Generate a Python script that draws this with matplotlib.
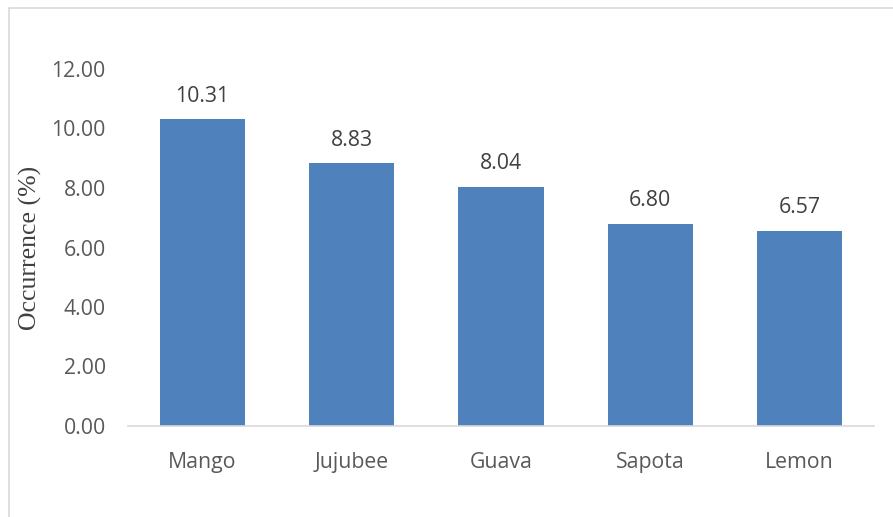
import matplotlib
matplotlib.use("Agg")
import matplotlib.pyplot as plt
from matplotlib.patches import Rectangle

categories = ["Mango", "Jujubee", "Guava", "Sapota", "Lemon"]
values = [10.31, 8.83, 8.04, 6.80, 6.57]
yticks = [0, 2, 4, 6, 8, 10, 12]

W, H = 893, 517
fig = plt.figure(figsize=(W / 100, H / 100), dpi=100)
fig.patch.set_facecolor("white")

ax = fig.add_axes([128 / W, 1 - 426 / H, (874 - 128) / W, (426 - 69) / H])
x = list(range(len(categories)))
ax.bar(x, values, width=0.57, color="#4F81BD", zorder=2)
ax.set_xlim(-0.5, len(categories) - 0.5)
ax.set_ylim(0, 12)
ax.set_yticks(yticks)
ax.set_yticklabels([f"{v:.2f}" for v in yticks])
ax.set_xticks(x)
ax.set_xticklabels(categories)

font = "Open Sans"
fs = 15.3
for lab in ax.get_yticklabels() + ax.get_xticklabels():
    lab.set_fontfamily(font)
    lab.set_fontsize(fs)
    lab.set_color("#595959")
ax.tick_params(axis="both", length=0)
ax.tick_params(axis="y", pad=16)
ax.tick_params(axis="x", pad=19)

for s in ["top", "right", "left"]:
    ax.spines[s].set_visible(False)
ax.spines["bottom"].set_color("#D9D9D9")
ax.spines["bottom"].set_linewidth(1.2)

for xi, v in zip(x, values):
    ax.annotate(f"{v:.2f}", (xi, v), xytext=(0, 9), textcoords="offset points",
                ha="center", va="bottom", fontsize=fs, color="#404040",
                fontfamily=font)

fig.text(30 / W, 1 - 248 / H, "Occurrence (%)", rotation=90, ha="center", va="center",
         fontsize=18.5, color="#404040", fontfamily="Liberation Serif")

fig.add_artist(Rectangle((8.5 / W, -0.1), 2, 1 - 7.5 / H + 0.1, transform=fig.transFigure,
                         fill=False, edgecolor="#D9D9D9", linewidth=1.2))

fig.savefig("out.png", dpi=100, facecolor="white")
